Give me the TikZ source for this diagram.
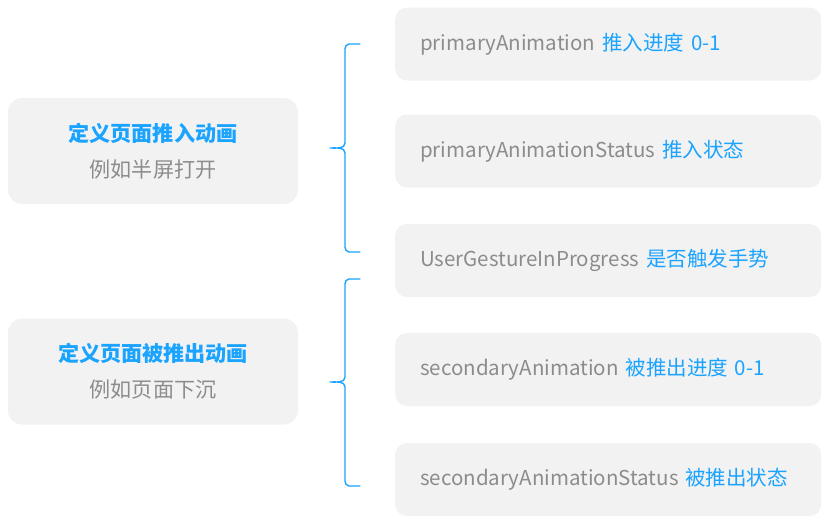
\documentclass[tikz,border=0pt]{standalone}
\usepackage{fontspec}
\setmainfont{Noto Sans CJK SC}
\definecolor{hlblue}{HTML}{1AA3FF}
\definecolor{boxgray}{HTML}{F2F2F2}
\definecolor{txtgray}{HTML}{8C8C8C}
\tikzset{
  catbox/.style={fill=boxgray, rounded corners=12pt, minimum width=290*0.03cm, minimum height=106*0.03cm, align=center, font=\fontsize{18}{31}\selectfont},
  itembox/.style={fill=boxgray, rounded corners=10pt, minimum width=426*0.03cm, minimum height=73*0.03cm, anchor=west, inner xsep=25*0.03cm, text width=376*0.03cm, font=\fontsize{17.5}{20}\selectfont, text=txtgray},
  brace/.style={hlblue, line width=1.2pt, line cap=round, line join=round}
}
\begin{document}
\begin{tikzpicture}[x=0.03cm, y=-0.03cm]
	\useasboundingbox (0,0) rectangle (830,527);
	\node[catbox] (push) at (153,151) {\textcolor{hlblue}{\bfseries 定义页面推入动画}\\\textcolor{txtgray}{例如半屏打开}};
	\node[catbox] (pop) at (153,371.5) {\textcolor{hlblue}{\bfseries 定义页面被推出动画}\\\textcolor{txtgray}{例如页面下沉}};
	\node[itembox] (primary) at (395,44) {primaryAnimation \textcolor{hlblue}{推入进度 0-1}};
	\node[itembox] (primarystatus) at (395,151) {primaryAnimationStatus \textcolor{hlblue}{推入状态}};
	\node[itembox] (gesture) at (395,260.5) {UserGestureInProgress \textcolor{hlblue}{是否触发手势}};
	\node[itembox] (secondary) at (395,369.5) {secondaryAnimation \textcolor{hlblue}{被推出进度 0-1}};
	\node[itembox] (secondarystatus) at (395,479.5) {secondaryAnimationStatus \textcolor{hlblue}{被推出状态}};
	% braces
	\draw[brace] (360,44) -- (349,44) to[out=180,in=90] (345,49) -- (345,143) to[out=270,in=0] (330,148) to[out=0,in=90] (345,153) -- (345,247) to[out=270,in=180] (349,252) -- (360,252);
	\draw[brace] (360,279) -- (349,279) to[out=180,in=90] (345,284) -- (345,377) to[out=270,in=0] (330,382) to[out=0,in=90] (345,387) -- (345,481) to[out=270,in=180] (349,486) -- (360,486);
\end{tikzpicture}
\end{document}
